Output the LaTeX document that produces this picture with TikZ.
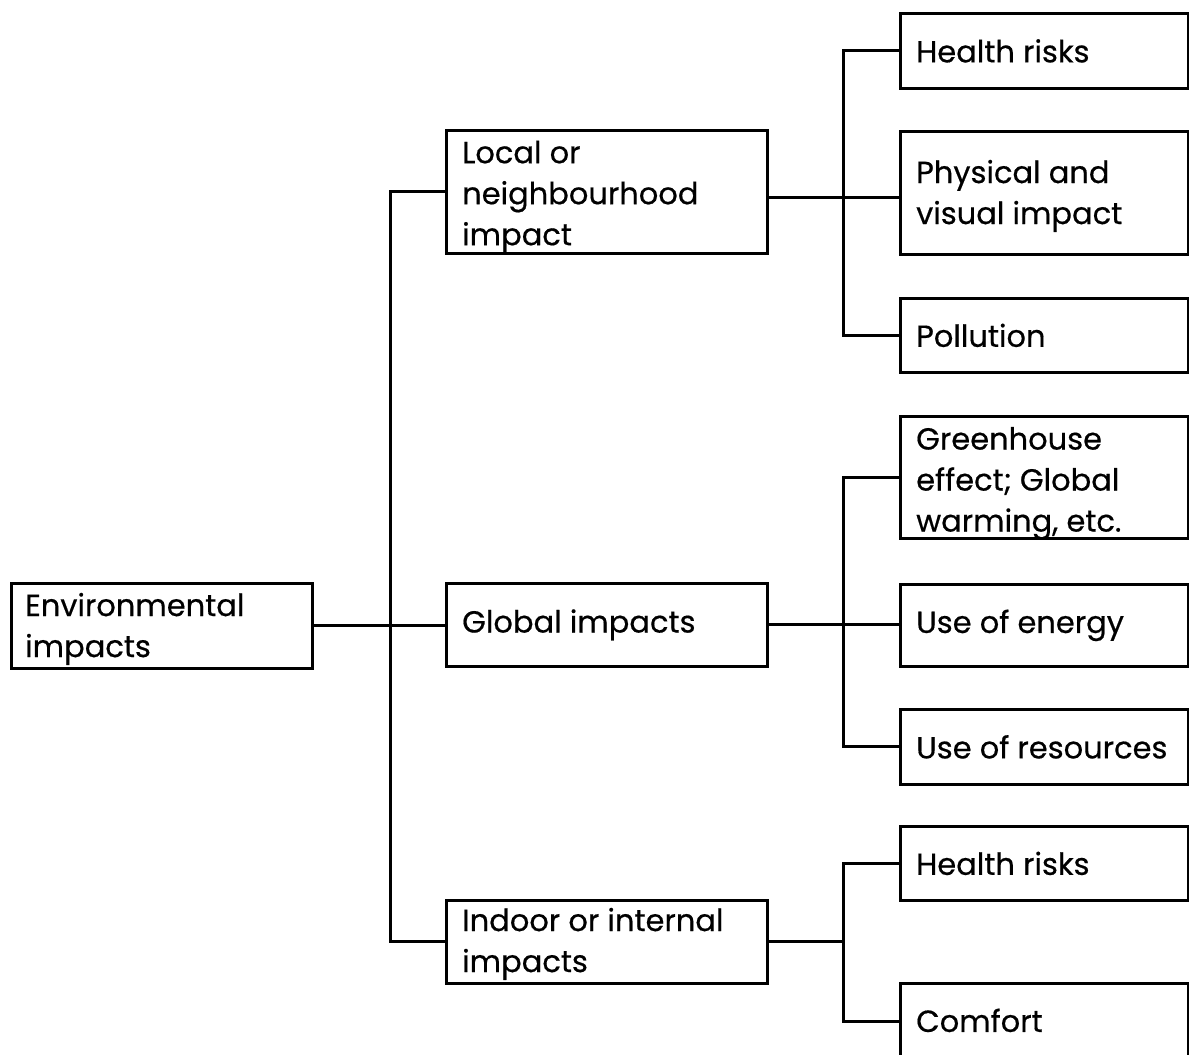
\documentclass[tikz,border=0pt]{standalone}
\usepackage{fontspec}
\setmainfont{Poppins}[UprightFeatures={FakeBold=0.5}]
\begin{document}
\begin{tikzpicture}[x=1pt,y=-1pt,
  box/.style={draw, line width=2.8pt, anchor=north west, inner sep=0pt},
  txt/.style={anchor=west, inner sep=0pt, align=left, font=\fontsize{30.5}{41}\selectfont},
  conn/.style={line width=3pt}]
\useasboundingbox (0,0) rectangle (1189,1055);

% level 0 and level 1 boxes
\node[box, minimum width=301pt, minimum height=85pt] (env) at (10,582) {};
\node[box, minimum width=321pt, minimum height=123pt] (local) at (445,129) {};
\node[box, minimum width=321pt, minimum height=83pt] (global) at (445,582) {};
\node[box, minimum width=321pt, minimum height=83pt] (indoor) at (445,899) {};

% level 2 boxes
\node[box, minimum width=288pt, minimum height=75pt] (hr1) at (899,12) {};
\node[box, minimum width=288pt, minimum height=123pt] (phys) at (899,130) {};
\node[box, minimum width=288pt, minimum height=74pt] (poll) at (899,297) {};
\node[box, minimum width=288pt, minimum height=122pt] (green) at (899,415) {};
\node[box, minimum width=288pt, minimum height=82pt] (energy) at (899,583) {};
\node[box, minimum width=288pt, minimum height=75pt] (res) at (899,708) {};
\node[box, minimum width=288pt, minimum height=74pt] (hr2) at (899,825) {};
\node[box, minimum width=288pt, minimum height=76pt] (comfort) at (899,982) {};

% labels
\node[txt] (tenv) at ([xshift=15pt,yshift=-3pt]env.west) {Environmental\\impacts};
\node[txt] (tlocal) at ([xshift=17pt,yshift=-5pt]local.west) {Local or\\neighbourhood\\impact};
\node[txt] (tglobal) at ([xshift=17pt]global.west) {Global impacts};
\node[txt] (tindoor) at ([xshift=17pt,yshift=-2pt]indoor.west) {Indoor or internal\\impacts};
\node[txt] (thr1) at ([xshift=17pt]hr1.west) {Health risks};
\node[txt] (tphys) at ([xshift=17pt,yshift=-3pt]phys.west) {Physical and\\visual impact};
\node[txt] (tpoll) at ([xshift=17pt]poll.west) {Pollution};
\node[txt] (tgreen) at ([xshift=17pt,yshift=-6pt]green.west) {Greenhouse\\effect; Global\\warming, etc.};
\node[txt] (tenergy) at ([xshift=17pt]energy.west) {Use of energy};
\node[txt] (tres) at ([xshift=17pt]res.west) {Use of resources};
\node[txt] (thr2) at ([xshift=17pt]hr2.west) {Health risks};
\node[txt] (tcomfort) at ([xshift=17pt,yshift=1pt]comfort.west) {Comfort};

% connectors from the root
\draw[conn] (env.east) -- (env.east -| global.west);
\draw[conn] (local.west) -- ++(-55,0) |- (indoor.west);

% connectors to the second level
\draw[conn] ([yshift=-6pt]local.east) -- ([yshift=-6pt]local.east -| phys.west);
\draw[conn] (hr1.west) -- ++(-56,0) |- (poll.west);
\draw[conn] (global.east) -- (global.east -| energy.west);
\draw[conn] (green.west) -- ++(-56,0) |- (res.west);
\draw[conn] (indoor.east) -- ++(76,0);
\draw[conn] (hr2.west) -- ++(-56,0) |- (comfort.west);
\end{tikzpicture}
\end{document}
